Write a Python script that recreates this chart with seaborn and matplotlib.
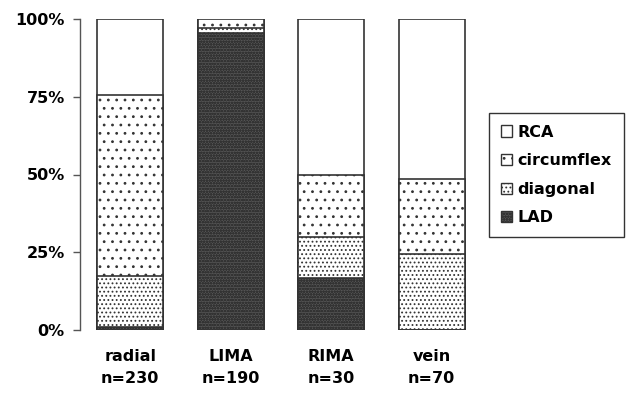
import matplotlib
matplotlib.use("Agg")
import matplotlib.pyplot as plt
import seaborn as sns
from matplotlib.patches import Patch

# stacked shares (%) per graft type
grafts = ["radial\nn=230", "LIMA\nn=190", "RIMA\nn=30", "vein\nn=70"]
lad = [0.9, 95.4, 16.7, 0.0]
diagonal = [16.5, 1.6, 13.3, 24.3]
circumflex = [58.3, 3.0, 20.0, 24.3]
rca = [24.3, 0.0, 50.0, 51.4]

segments = ["LAD", "diagonal", "circumflex", "RCA"]
hatches = {"LAD": "oooooo", "diagonal": "....", "circumflex": "..", "RCA": ""}
fills = {"LAD": "#555555", "diagonal": "white", "circumflex": "white", "RCA": "white"}

sns.set_style("white")
plt.rcParams["font.family"] = ["DejaVu Sans"]
plt.rcParams["font.weight"] = "bold"
plt.rcParams["text.color"] = "black"
plt.rcParams["xtick.color"] = "black"
plt.rcParams["ytick.color"] = "black"
plt.rcParams["hatch.linewidth"] = 0.8

fig = plt.figure(figsize=(6.28, 4.04), dpi=100)
ax = fig.add_axes([80 / 628, 1 - 330 / 404, 402 / 628, 311 / 404])

# cumulative totals, drawn from the top segment down so each covers the next
values = {"LAD": lad, "diagonal": diagonal, "circumflex": circumflex, "RCA": rca}
cum = {}
running = [0.0] * len(grafts)
for seg in segments:
    running = [r + v for r, v in zip(running, values[seg])]
    cum[seg] = running

for seg in reversed(segments):
    sns.barplot(x=grafts, y=cum[seg], color=fills[seg], saturation=1, width=0.66,
                edgecolor="#333333", linewidth=1.2, hatch=hatches[seg], ax=ax)

ax.set_ylim(0, 100)
ax.set_xlim(-0.5, 3.5)
ax.set_yticks([0, 25, 50, 75, 100])
ax.set_yticklabels(["0%", "25%", "50%", "75%", "100%"])
for s in ["top", "right", "bottom"]:
    ax.spines[s].set_visible(False)
ax.spines["left"].set_color("#555555")
ax.spines["left"].set_linewidth(1.0)
ax.tick_params(axis="y", left=True, length=5, width=1, color="#555555",
               labelcolor="black", labelsize=11.5, pad=6)
ax.tick_params(axis="x", bottom=False, labelcolor="black", labelsize=11.5, pad=10)
for lab in ax.get_xticklabels():
    lab.set_linespacing(1.6)
    lab.set_fontweight("bold")
for lab in ax.get_yticklabels():
    lab.set_fontweight("bold")
ax.set_xlabel("")
ax.set_ylabel("")

handles = [Patch(facecolor=fills[s], edgecolor="#333333", hatch=hatches[s], label=s)
           for s in reversed(segments)]
leg = fig.legend(handles=handles, loc="center left",
                 bbox_to_anchor=(489 / 628, 1 - 175 / 404),
                 frameon=True, fancybox=False, edgecolor="black",
                 handlelength=0.7, handleheight=0.7, handletextpad=0.35,
                 labelspacing=0.85, borderpad=0.75, borderaxespad=0,
                 prop={"size": 11.5, "weight": "bold"})
leg.get_frame().set_linewidth(1.0)
for t in leg.get_texts():
    t.set_color("black")

fig.savefig("out.png", dpi=100)
